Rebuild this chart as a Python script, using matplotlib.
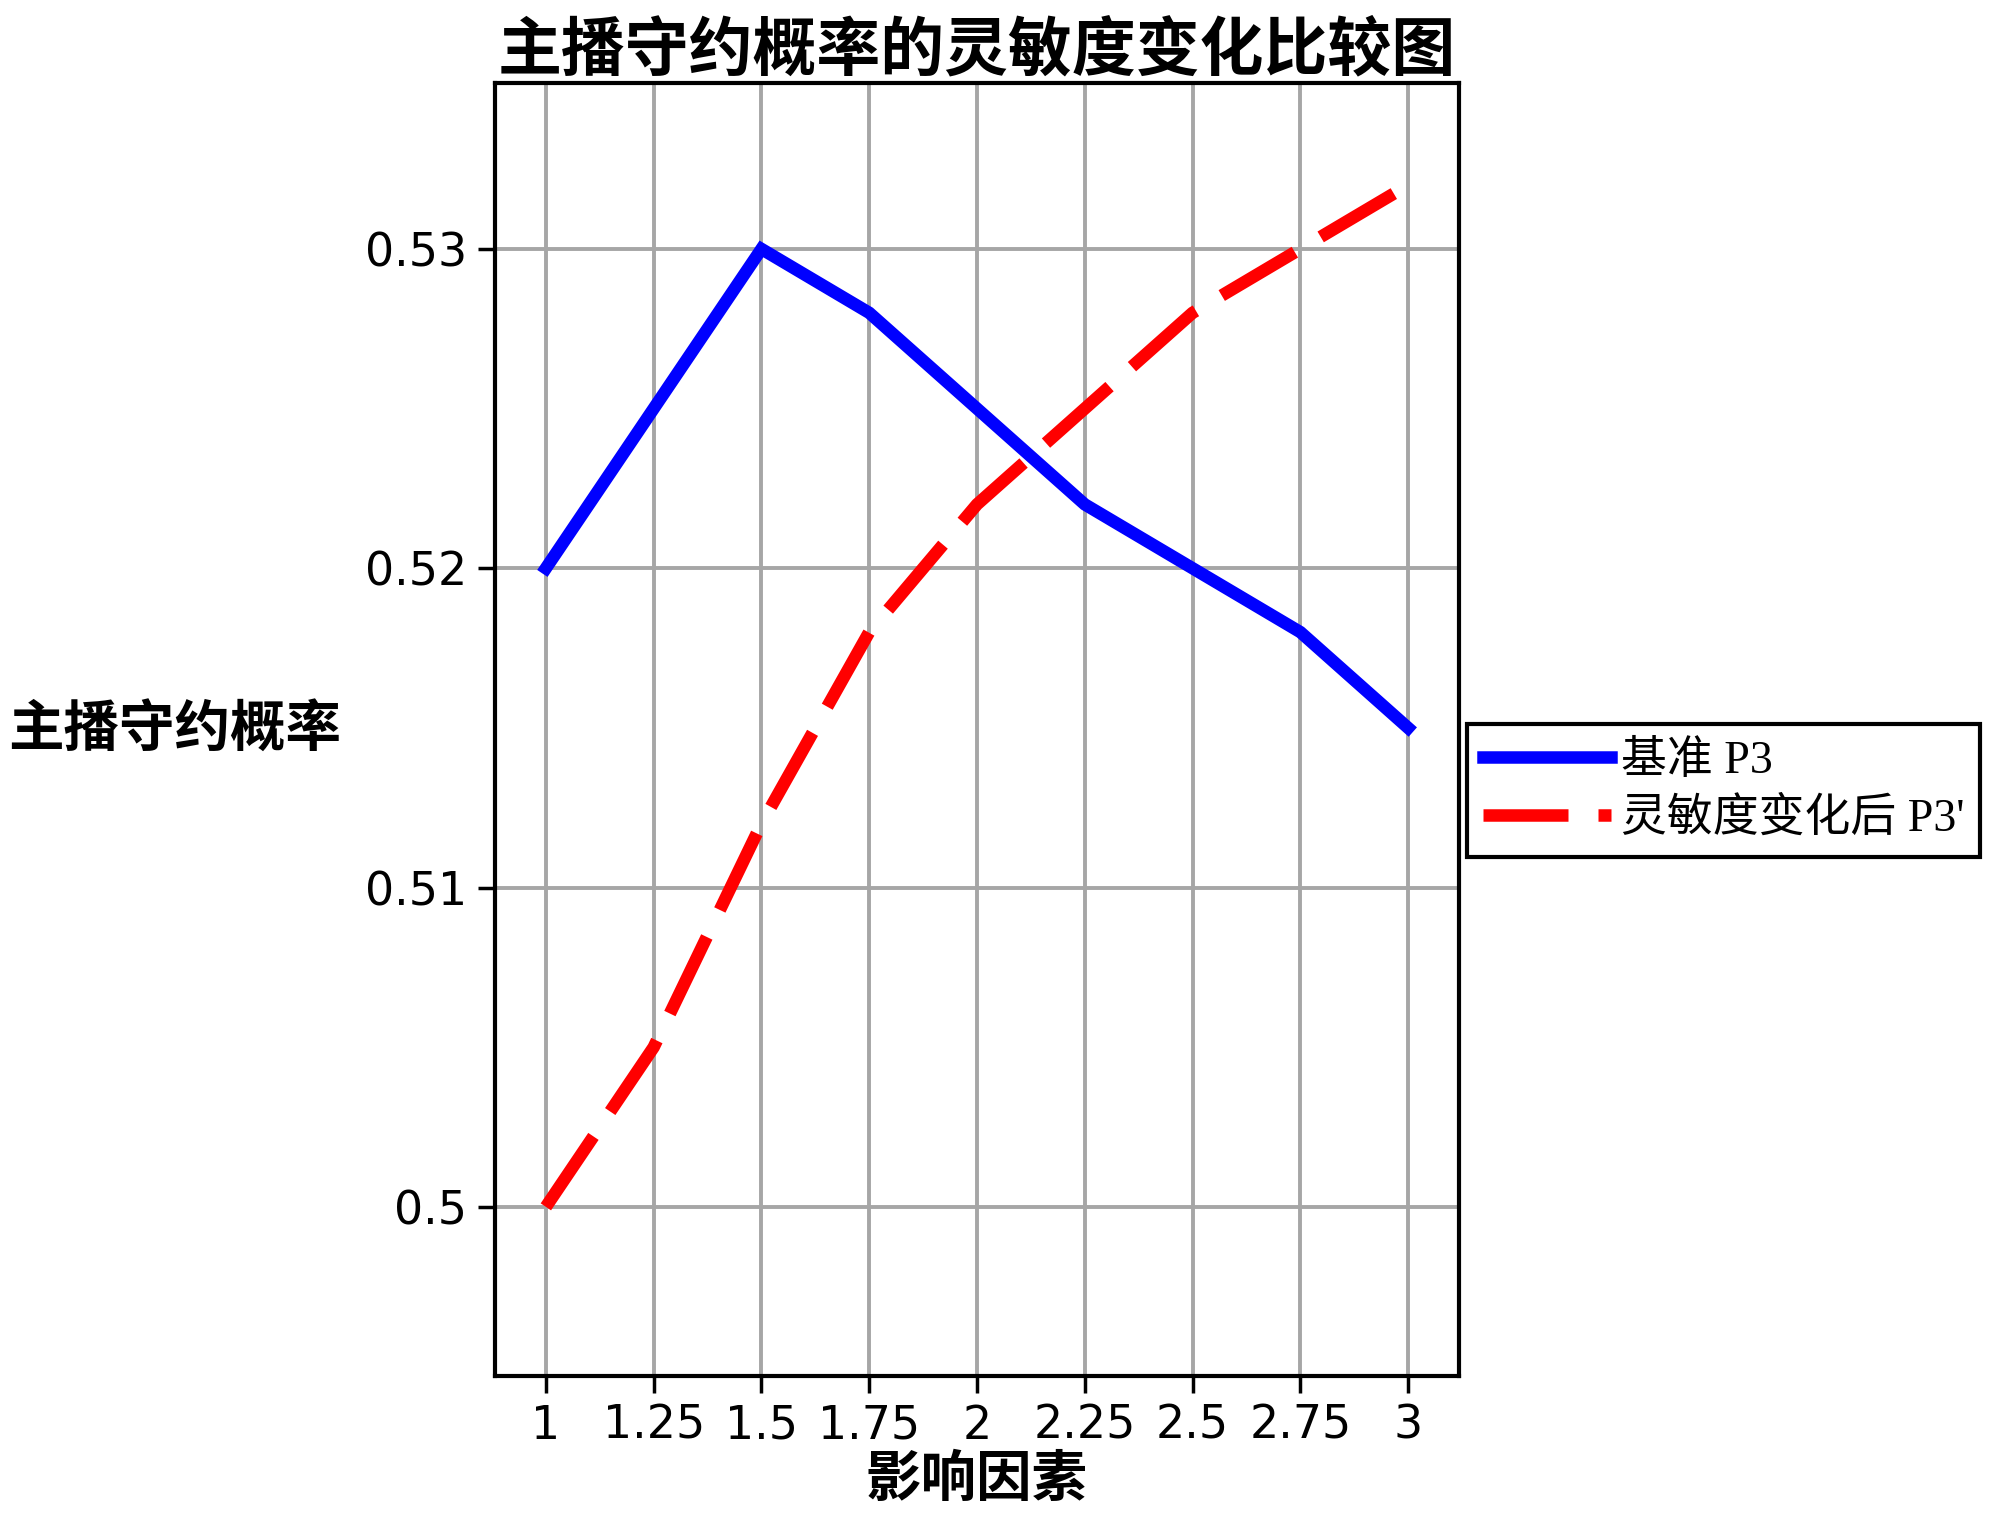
import matplotlib
matplotlib.use("Agg")
import matplotlib.pyplot as plt

x_values = [1, 1.25, 1.5, 1.75, 2, 2.25, 2.5, 2.75, 3]
base_p3 = [0.520, 0.525, 0.530, 0.528, 0.525, 0.522, 0.520, 0.518, 0.515]
sens_p3 = [0.500, 0.505, 0.512, 0.518, 0.522, 0.525, 0.528, 0.530, 0.532]
x_tick_labels = ["1", "1.25", "1.5", "1.75", "2", "2.25", "2.5", "2.75", "3"]
y_ticks = [0.50, 0.51, 0.52, 0.53]
y_tick_labels = ["0.5", "0.51", "0.52", "0.53"]
series_names = ["基准 P3", "灵敏度变化后 P3'"]
title = "主播守约概率的灵敏度变化比较图"
xlabel = "影响因素"
ylabel = "主播守约概率"

plt.rcParams['font.family'] = ['DejaVu Sans', 'Noto Sans CJK SC']
cjk = ['Noto Sans CJK SC', 'DejaVu Sans']

fig = plt.figure(figsize=(20, 15.16), dpi=100)
ax = fig.add_axes([0.2475, 0.0923, 0.482, 0.853])

ax.plot(x_values, base_p3, color='#0000ff', lw=9, label=series_names[0], zorder=3,
        solid_joinstyle='miter')
ax.plot(x_values, sens_p3, color='#ff0000', lw=9, linestyle=(0, (6.8, 2.4)),
        label=series_names[1], zorder=3)

ax.set_xlim(0.882, 3.118)
ax.set_ylim(0.4947, 0.5352)
ax.set_xticks(x_values)
ax.set_xticklabels(x_tick_labels)
ax.set_yticks(y_ticks)
ax.set_yticklabels(y_tick_labels)
ax.tick_params(axis='both', labelsize=33, width=2.5, length=12, direction='out', pad=8)
ax.grid(True, color='#a6a6a6', lw=2.8, zorder=0)
ax.set_axisbelow(True)
for s in ax.spines.values():
    s.set_linewidth(3)
    s.set_color('black')

ax.set_title(title, fontsize=46, fontweight='bold', family=cjk, pad=2)
ax.set_xlabel(xlabel, fontsize=40, fontweight='bold', family=cjk, labelpad=2)
fig.text(0.004, 0.518, ylabel, fontsize=40, fontweight='bold', family=cjk,
         ha='left', va='center')

leg = fig.legend(loc='upper left', bbox_to_anchor=(0.7335, 0.5224),
                 prop={'family': ['Liberation Serif', 'Noto Sans CJK SC'], 'size': 33},
                 frameon=True, fancybox=False, edgecolor='black', framealpha=1,
                 handlelength=2.8, handletextpad=0.2, borderpad=0.35, labelspacing=0.32,
                 borderaxespad=0)
leg.get_frame().set_linewidth(3)

fig.savefig("out.png", dpi=100, facecolor='white')
